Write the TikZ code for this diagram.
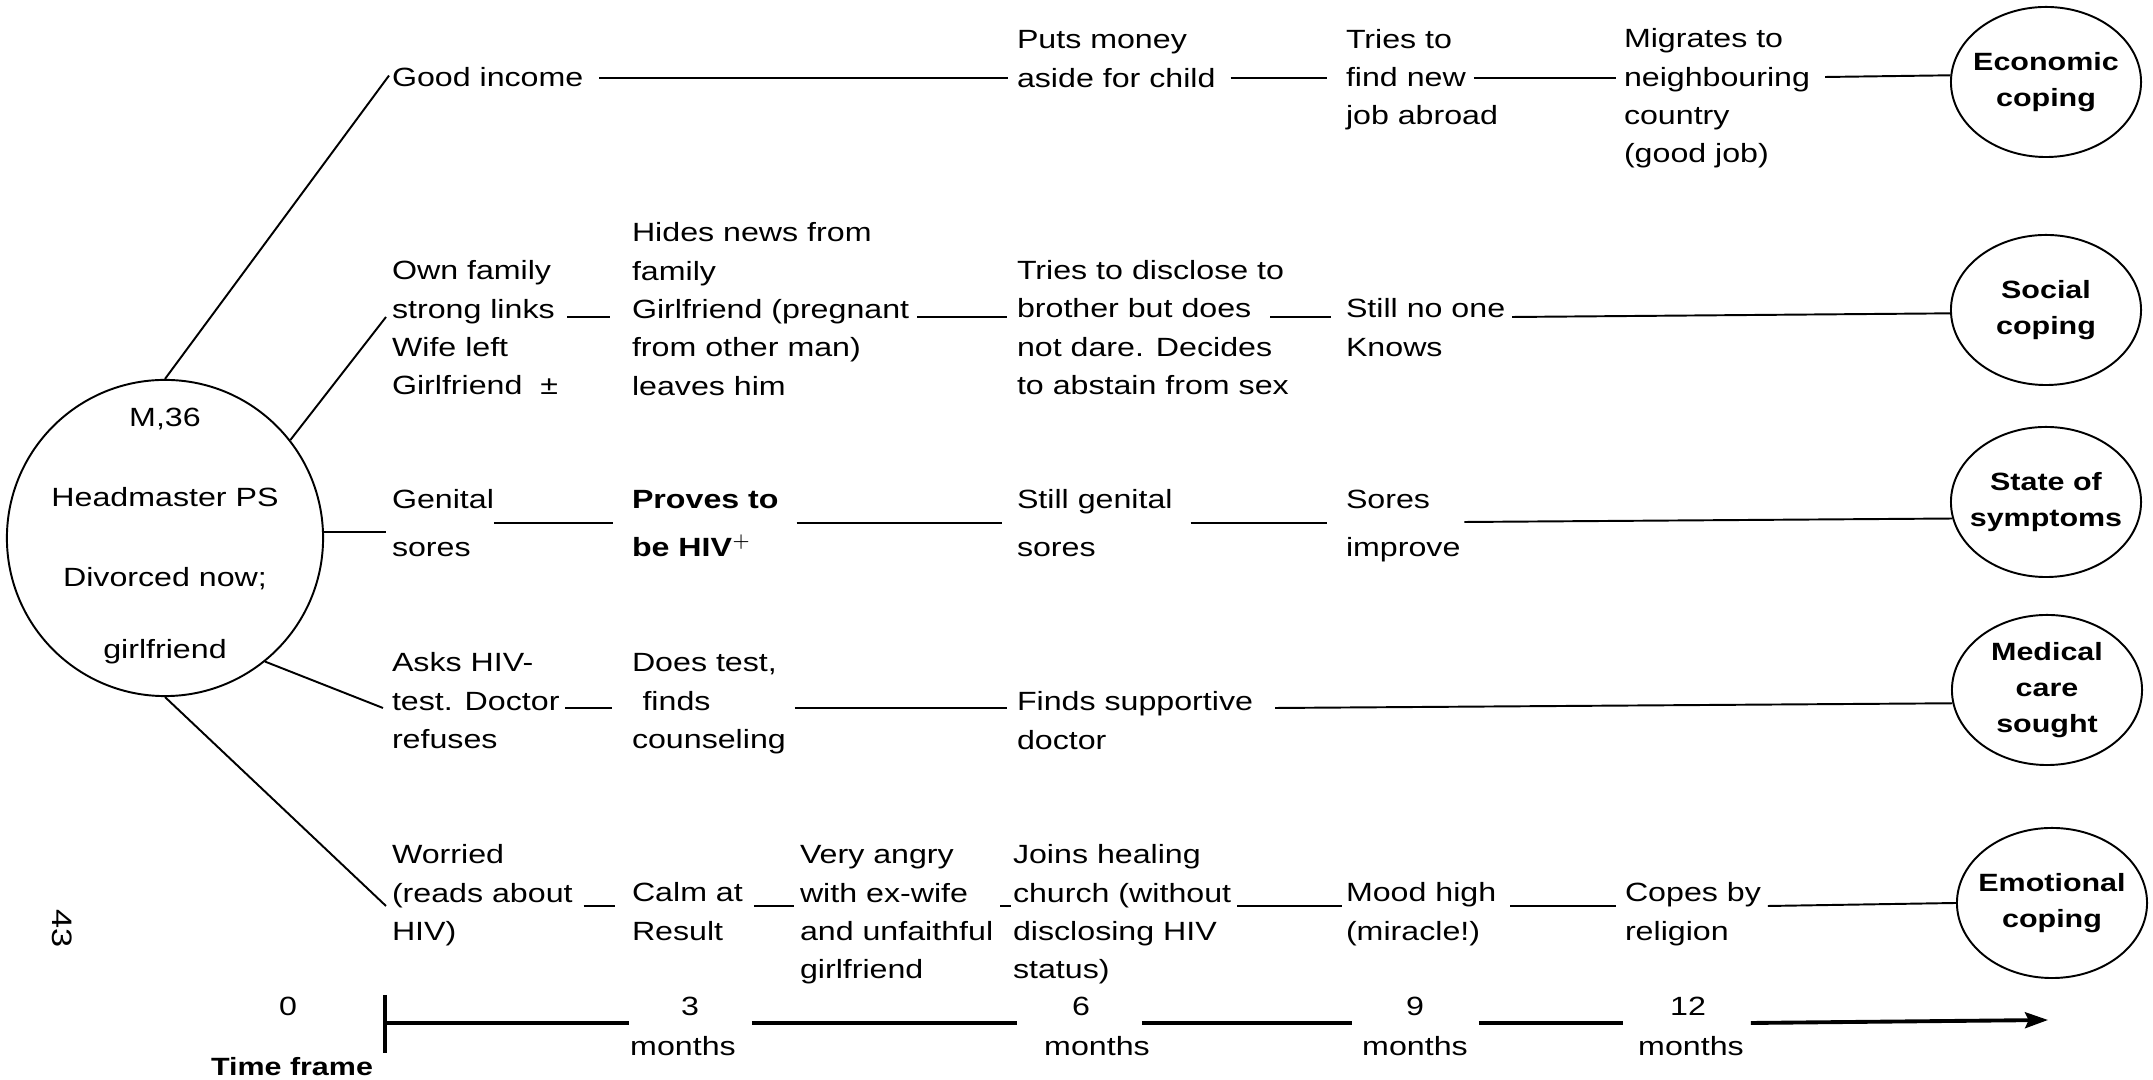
\documentclass[tikz,border=0pt]{standalone}
\usepackage{fontspec}
\setmainfont{Liberation Sans}[FakeStretch=1.22]
\usetikzlibrary{calc,shapes.geometric,arrows.meta}
\newcommand\tb[1]{\begin{tabular}[t]{@{}l@{}}#1\end{tabular}}
\begin{document}
\begin{tikzpicture}[x=0.01cm,y=-0.01cm,
  txt/.style={anchor=base west, inner sep=0pt, outer sep=0pt, font=\fontsize{7.5}{10.9}\selectfont},
  ctr/.style={anchor=base, inner sep=0pt, outer sep=0pt, font=\fontsize{7.5}{10.9}\selectfont},
  oval/.style={ellipse, draw, line width=0.55pt, minimum width=1.9cm, minimum height=1.5cm, inner sep=0pt},
  ovaltext/.style={inner sep=0pt, align=center, font=\bfseries\fontsize{7.1}{10.2}\selectfont},
  link/.style={line width=0.55pt},
  axisline/.style={line width=1.1pt}]
\fill[white] (0,0) rectangle (2153,1080);
\useasboundingbox (0,0) rectangle (2153,1080);

% row levels
\coordinate (rowA) at (0,78);
\coordinate (rowB) at (0,317);
\coordinate (rowC) at (0,523);
\coordinate (rowD) at (0,708);
\coordinate (rowE) at (0,906);
\coordinate (rowT) at (0,1023);

% central person
\node[circle, draw, line width=0.55pt, minimum size=3.16cm, inner sep=0pt] (m) at (165,538) {};
\node[ctr] (c1) at (165,427) {M,36};
\node[ctr] (c2) at (165,507) {Headmaster PS};
\node[ctr] (c3) at (165,587) {Divorced now;};
\node[ctr] (c4) at (165,659) {girlfriend};

% outcome ellipses
\node[oval] (eco) at (2046,82) {};
\node[ovaltext] (ecot) at (eco) {Economic\\coping};
\node[oval] (soc) at (2046,310) {};
\node[ovaltext] (soct) at (soc) {Social\\coping};
\node[oval] (sym) at (2046,502) {};
\node[ovaltext] (symt) at (sym) {State of\\symptoms};
\node[oval] (med) at (2047,690) {};
\node[ovaltext] (medt) at (med) {Medical\\care\\sought};
\node[oval] (emo) at (2052,903) {};
\node[ovaltext] (emot) at (emo) {Emotional\\coping};

% row A: economic
\node[txt] (good) at (392,87) {Good income};
\node[txt] (puts) at (1017,49) {\tb{Puts money\\aside for child}};
\node[txt] (tr1) at (1346,49) {Tries to};
\node[txt] (tr2) at (1346,87) {find new};
\node[txt] (tr3) at (1346,125) {job abroad};
\node[txt] (migr) at (1624,48) {\tb{Migrates to\\neighbouring\\country\\(good job)}};

% row B: social
\node[txt] (own) at (392,280) {\tb{Own family\\strong links\\Wife left\\Girlfriend\ \ ±}};
\node[txt] (hides) at (632,242) {\tb{Hides news from\\family\\Girlfriend (pregnant\\from other man)\\leaves him}};
\node[txt] (ds1) at (1017,280) {Tries to disclose to};
\node[txt] (ds2) at (1017,318) {brother but does};
\node[txt] (ds3) at (1017,357) {not dare. Decides};
\node[txt] (ds4) at (1017,395) {to abstain from sex};
\node[txt] (still) at (1346,318) {\tb{Still no one\\Knows}};

% row C: symptoms
\node[txt] (gen) at (392,509) {\tb{Genital\\[2.7pt]sores}};
\node[txt, font=\bfseries\fontsize{7.5}{10.9}\selectfont] (prov) at (632,509) {\tb{Proves to\\[2.7pt]be HIV$^{+}$}};
\node[txt] (stg) at (1017,509) {\tb{Still genital\\[2.7pt]sores}};
\node[txt] (sor) at (1346,509) {\tb{Sores\\[2.7pt]improve}};

% row D: medical
\node[txt] (asks) at (392,672) {\tb{Asks HIV-\\test. Doctor\\refuses}};
\node[txt] (does) at (632,672) {\tb{Does test,\\\hspace{3pt}finds\\counseling}};
\node[txt] (fsd) at (1017,711) {\tb{Finds supportive\\doctor}};

% row E: emotional
\node[txt] (wor) at (392,864) {\tb{Worried\\(reads about\\HIV)}};
\node[txt] (calm) at (632,902) {\tb{Calm at\\Result}};
\node[txt] (ang) at (800,864) {\tb{Very angry\\with ex-wife\\and unfaithful\\girlfriend}};
\node[txt] (join) at (1013,864) {\tb{Joins healing\\church (without\\disclosing HIV\\status)}};
\node[txt] (mood) at (1346,902) {\tb{Mood high\\(miracle!)}};
\node[txt] (cop) at (1625,902) {\tb{Copes by\\religion}};

% time axis labels
\node[ctr] (n0) at (288,1016) {0};
\node[ctr] (n3) at (690,1016) {3};
\node[ctr] (n6) at (1081,1016) {6};
\node[ctr] (n9) at (1415,1016) {9};
\node[ctr] (n12) at (1688,1016) {12};
\node[ctr] (m3) at (683,1056) {months};
\node[ctr] (m6) at (1097,1056) {months};
\node[ctr] (m9) at (1415,1056) {months};
\node[ctr] (m12) at (1691,1056) {months};
\node[anchor=base, inner sep=0pt, font=\bfseries\fontsize{7.1}{9}\selectfont] (tf) at (292,1076) {Time frame};
\node[rotate=-90, inner sep=0pt, font=\fontsize{8}{9}\selectfont] (pg) at (62,929) {43};

% spokes from the person
\draw[link] (m.north) -- ($(good.west)+(-3,-2)$);
\draw[link] (m.38) -- ($(own.west |- rowB)+(-6,0)$);
\draw[link] (m.2) -- ($(gen.west |- m.2)+(-6,0)$);
\draw[link] (m.-51) -- ($(asks.west |- rowD)+(-9,0)$);
\draw[link] (m.south) -- ($(wor.west |- rowE)+(-6,0)$);

% row A links
\draw[link] ($(good.east |- rowA)+(16,0)$) -- ($(puts.west |- rowA)+(-9,0)$);
\draw[link] ($(puts.east |- rowA)+(15,0)$) -- ($(tr2.west |- rowA)+(-19,0)$);
\draw[link] ($(tr2.east |- rowA)+(8,0)$) -- ($(migr.west |- rowA)+(-8,0)$);
\draw[link] ($(migr.east |- rowA)+(15,-1)$) -- (eco.176);

% row B links
\draw[link] ($(own.east |- rowB)+(9,0)$) -- ($(hides.west |- rowB)+(-22,0)$);
\draw[link] ($(hides.east |- rowB)+(8,0)$) -- ($(ds2.west |- rowB)+(-10,0)$);
\draw[link] ($(ds2.east |- rowB)+(19,0)$) -- ($(still.west |- rowB)+(-15,0)$);
\draw[link] ($(still.east |- rowB)+(7,0)$) -- (soc.182);

% row C links
\draw[link] ($(gen.east |- rowC)+(0,0)$) -- ($(prov.west |- rowC)+(-19,0)$);
\draw[link] ($(prov.east |- rowC)+(18,0)$) -- ($(stg.west |- rowC)+(-15,0)$);
\draw[link] ($(stg.east |- rowC)+(18,0)$) -- ($(sor.west |- rowC)+(-19,0)$);
\draw[link] ($(sor.east |- rowC)+(4,-1)$) -- (sym.190);

% row D links
\draw[link] ($(asks.east |- rowD)+(6,0)$) -- ($(does.west |- rowD)+(-20,0)$);
\draw[link] ($(does.east |- rowD)+(9,0)$) -- ($(fsd.west |- rowD)+(-10,0)$);
\draw[link] ($(fsd.east |- rowD)+(22,0)$) -- (med.188);

% row E links
\draw[link] ($(wor.east |- rowE)+(11,0)$) -- ($(calm.west |- rowE)+(-17,0)$);
\draw[link] ($(calm.east |- rowE)+(11,0)$) -- ($(ang.west |- rowE)+(-6,0)$);
\draw[link] ($(ang.east |- rowE)+(7,0)$) -- ($(join.west |- rowE)+(-2,0)$);
\draw[link] ($(join.east |- rowE)+(6,0)$) -- ($(mood.west |- rowE)+(-4,0)$);
\draw[link] ($(mood.east |- rowE)+(14,0)$) -- ($(cop.west |- rowE)+(-9,0)$);
\draw[link] ($(cop.east |- rowE)+(7,0)$) -- (emo.west);

% time axis
\coordinate (tkT) at (385,995);
\coordinate (tkB) at (385,1053);
\coordinate (tk) at (385,1023);
\coordinate (tip) at (2048,1020);
\draw[axisline] (tkT) -- (tkB);
\draw[axisline] (tk) -- ($(n3.west |- rowT)+(-52,0)$);
\draw[axisline] ($(n3.east |- rowT)+(53,0)$) -- ($(n6.west |- rowT)+(-55,0)$);
\draw[axisline] ($(n6.east |- rowT)+(52,0)$) -- ($(n9.west |- rowT)+(-54,0)$);
\draw[axisline] ($(n9.east |- rowT)+(55,0)$) -- ($(n12.west |- rowT)+(-47,0)$);
\draw[axisline, -{Stealth[length=6.5pt, width=4.5pt, inset=1pt]}] ($(n12.east |- rowT)+(45,0)$) -- (tip);
\end{tikzpicture}
\end{document}
